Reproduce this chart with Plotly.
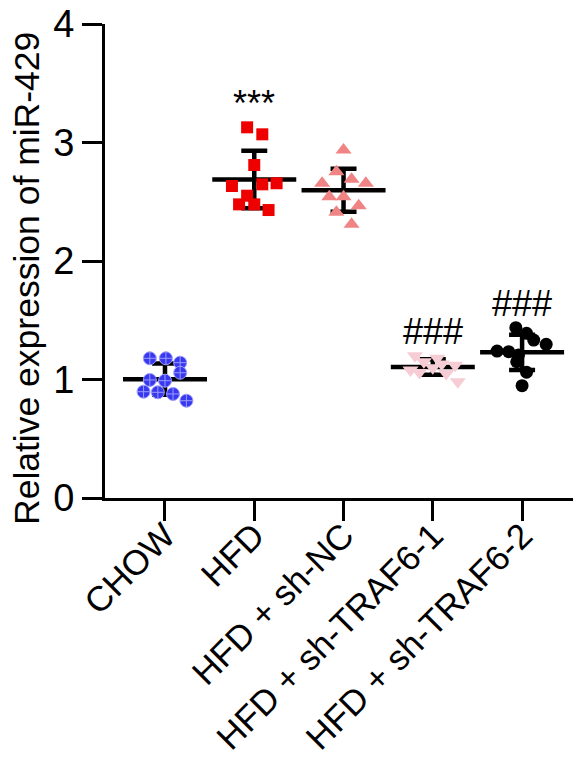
import numpy as np
import plotly.graph_objects as go

categories = ["CHOW", "HFD", "HFD + sh-NC", "HFD + sh-TRAF6-1", "HFD + sh-TRAF6-2"]

chow = [1.179, 1.179, 1.142, 1.057, 0.996, 0.990, 0.897, 0.892, 0.878, 0.821]
hfd = [3.128, 3.069, 2.810, 2.633, 2.647, 2.656, 2.551, 2.478, 2.478, 2.430]
hfd_shnc = [2.937, 2.754, 2.689, 2.656, 2.656, 2.543, 2.543, 2.467, 2.411, 2.310]
hfd_traf1 = [1.20, 1.15, 1.18, 1.12, 1.08, 1.10, 1.05, 1.06, 1.13, 0.98]
hfd_traf2 = [1.437, 1.390, 1.333, 1.297, 1.240, 1.235, 1.207, 1.150, 1.061, 0.948]

# horizontal jitter of each dot (category units)
chow_off = [-0.17, 0.01, 0.17, 0.17, -0.17, 0.0, -0.24, -0.08, 0.09, 0.24]
hfd_off = [-0.08, 0.09, 0.0, -0.25, 0.09, 0.25, -0.08, -0.17, 0.0, 0.16]
shnc_off = [0.0, -0.08, 0.09, -0.24, 0.25, -0.16, 0.0, 0.17, -0.08, 0.09]
traf1_off = [-0.2, -0.1, 0.05, 0.25, -0.25, 0.0, 0.15, -0.15, 0.1, 0.28]
traf2_off = [-0.07, 0.05, 0.13, 0.27, -0.28, -0.15, -0.04, -0.06, 0.05, 0.0]

signif = ["", "***", "", "###", "###"]
y_title = "Relative expression of miR-429"

groups = [chow, hfd, hfd_shnc, hfd_traf1, hfd_traf2]
offsets = [chow_off, hfd_off, shnc_off, traf1_off, traf2_off]
styles = [
    dict(symbol="circle-cross", color="#3838EE", size=13, line=dict(color="#9C9CFF", width=1)),
    dict(symbol="square", color="#EE0000", size=12, line=dict(width=0)),
    dict(symbol="triangle-up", color="#F08484", size=14, line=dict(width=0)),
    dict(symbol="triangle-down", color="#F7CDD5", size=14, line=dict(width=0)),
    dict(symbol="circle", color="#000000", size=13, line=dict(width=0)),
]

fig = go.Figure()

for i, vals in enumerate(groups):
    v = np.array(vals)
    m = v.mean()
    sd = v.std(ddof=1)
    fig.add_trace(go.Scatter(
        x=[i], y=[m], mode="markers",
        marker=dict(symbol="line-ew", size=60, color="black",
                    line=dict(color="black", width=4.5)),
        error_y=dict(type="data", array=[sd], visible=True, color="black",
                     thickness=4.5, width=13),
        showlegend=False, hoverinfo="skip"))

for i, (vals, off) in enumerate(zip(groups, offsets)):
    fig.add_trace(go.Scatter(
        x=[i + o for o in off], y=vals, mode="markers",
        marker=styles[i], showlegend=False))

for i, (vals, s) in enumerate(zip(groups, signif)):
    if s:
        fig.add_annotation(x=i, y=max(vals), text=s, showarrow=False,
                           yanchor="middle", yshift=24,
                           font=dict(size=36, color="black",
                                     family="Liberation Sans"))

fig.add_annotation(x=-0.164, y=0.464, xref="paper", yref="paper",
                   text=y_title, textangle=-90, showarrow=False,
                   xanchor="center", yanchor="middle",
                   font=dict(size=35.5, color="black"))

fig.update_layout(
    width=573, height=759,
    margin=dict(l=97, r=0, t=16, b=269),
    paper_bgcolor="white", plot_bgcolor="white",
    font=dict(family="Liberation Sans, Arial, sans-serif", color="black"),
)
fig.update_xaxes(
    range=[-0.672, 4.66], tickvals=list(range(len(categories))), ticktext=categories,
    tickangle=-45, showgrid=False, zeroline=False, automargin=False,
    showline=True, linecolor="black", linewidth=3,
    ticks="outside", ticklen=20, tickwidth=3, tickcolor="black",
    tickfont=dict(size=35, color="black"), ticklabeloverflow="allow",
    ticklabelstandoff=-20,
)
fig.update_yaxes(
    range=[0, 4], tickvals=[0, 1, 2, 3, 4], showgrid=False, zeroline=False,
    automargin=False, ticklabeloverflow="allow",
    showline=True, linecolor="black", linewidth=3,
    ticks="outside", ticklen=20, tickwidth=3, tickcolor="black",
    tickfont=dict(size=38, color="black"),
)

fig.write_html("out.html")
